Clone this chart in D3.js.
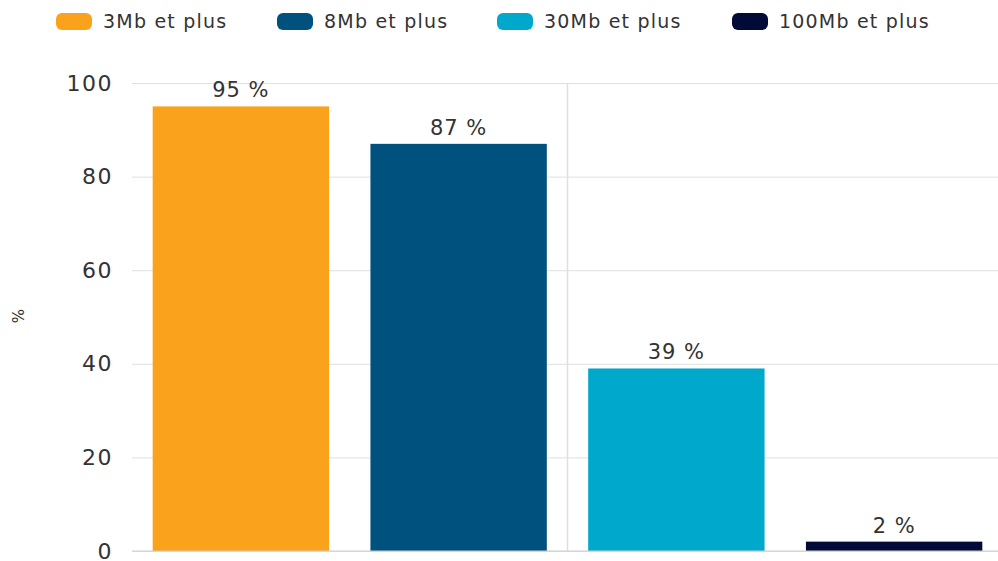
<!DOCTYPE html>
<html><head><meta charset="utf-8">
<script src="https://cdn.jsdelivr.net/npm/d3@7"></script>
<style>body{margin:0;background:#fff;font-family:"DejaVu Sans",sans-serif;}</style>
</head><body>
<svg id="chart" width="998" height="561"></svg>
<script>
const categories = ["3Mb et plus", "8Mb et plus", "30Mb et plus", "100Mb et plus"];
const values = [95, 87, 39, 2];
const colors = ["#fba21c", "#01517f", "#00a8cc", "#020b38"];
const yTicks = [0, 20, 40, 60, 80, 100];
const yLabel = "%";

(function () {
const svg = d3.select("#chart");
const mLeft = 132, mRight = 1003, mTop = 83, mBottom = 551;

const x = d3.scaleBand().domain(categories).range([mLeft, mRight]).paddingInner(0.19).paddingOuter(0.095);
const y = d3.scaleLinear().domain([0, 100]).range([mBottom, mTop]);

// gridlines
const yAxis = d3.axisLeft(y).tickValues(yTicks).tickSize(-(mRight - mLeft)).tickPadding(19);
const gy = svg.append("g").attr("transform", `translate(${mLeft},0)`).call(yAxis);
gy.select(".domain").remove();
gy.selectAll(".tick line").attr("stroke", "#e0e0e0").attr("stroke-width", 1);
gy.selectAll(".tick text").attr("fill", "#333").style("font-size", "22px")
  .style("letter-spacing", "1.5px").style("font-family", "DejaVu Sans, sans-serif");

// vertical separator at middle
const mid = (x(categories[1]) + x.bandwidth() + x(categories[2])) / 2;
svg.append("line").attr("x1", mid).attr("x2", mid).attr("y1", mTop).attr("y2", mBottom)
  .attr("stroke", "#e0e0e0").attr("stroke-width", 1.5);

// bars
svg.append("g").selectAll("rect").data(values).join("rect")
  .attr("x", (d, i) => x(categories[i]))
  .attr("y", d => y(d))
  .attr("width", x.bandwidth())
  .attr("height", d => y(0) - y(d))
  .attr("fill", (d, i) => colors[i]);

// baseline
svg.append("line").attr("x1", mLeft).attr("x2", mRight).attr("y1", y(0)).attr("y2", y(0))
  .attr("stroke", "#cccccc").attr("stroke-width", 1);

// value labels
svg.append("g").selectAll("text").data(values).join("text")
  .attr("x", (d, i) => x(categories[i]) + x.bandwidth() / 2)
  .attr("y", d => y(d) - 9)
  .attr("text-anchor", "middle")
  .attr("fill", "#333")
  .style("font-size", "21px")
  .style("letter-spacing", "1px")
  .text(d => d + " %");

// y label
svg.append("text").attr("transform", "translate(24,316) rotate(-90)")
  .attr("text-anchor", "middle").attr("fill", "#333").style("font-size", "15px").text(yLabel);

// legend
const legendX = [56, 277, 497, 732];
const lg = svg.append("g").selectAll("g").data(categories).join("g")
  .attr("transform", (d, i) => `translate(${legendX[i]},13)`);
lg.append("rect").attr("width", 36).attr("height", 17).attr("rx", 6).attr("fill", (d, i) => colors[i]);
lg.append("text").attr("x", 47).attr("y", 15).attr("fill", "#333").style("font-size", "19px")
  .style("letter-spacing", "1.2px").text(d => d);
})();
</script>
</body></html>
